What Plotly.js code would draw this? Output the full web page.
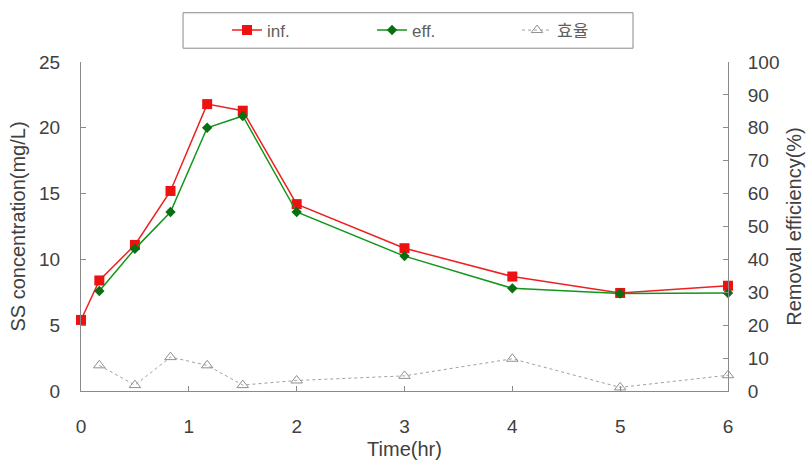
<!DOCTYPE html>
<html>
<head>
<meta charset="utf-8">
<script src="https://cdn.plot.ly/plotly-3.0.1.min.js"></script>
<style>
  html, body { margin: 0; padding: 0; background: #fff; }
  #chart { width: 808px; height: 464px; }
</style>
</head>
<body>
<div id="chart"></div>
<script>
// Sampling times (hr)
const timeHr = [0, 0.17, 0.5, 0.83, 1.17, 1.5, 2, 3, 4, 5, 6];
// SS concentration (mg/L), influent and effluent
const ssInf = [5.4, 8.4, 11.1, 15.2, 21.8, 21.3, 14.2, 10.85, 8.7, 7.45, 8.0];
const ssEff = [null, 7.6, 10.8, 13.6, 20.0, 20.9, 13.6, 10.25, 7.8, 7.4, 7.45];
// Removal efficiency (%)
const effTime = [0.17, 0.5, 0.83, 1.17, 1.5, 2, 3, 4, 5, 6];
const removal = [7.8, 1.8, 10.3, 7.8, 1.8, 3.2, 4.6, 9.8, 1.1, 4.8];

const seriesNames = ['inf.', 'eff.', '효율'];
const xTicks = [0, 1, 2, 3, 4, 5, 6];

const font = 'Liberation Sans, Arial, sans-serif';
const axisGray = '#8a8a8a';
const labelColor = '#404040';

const traces = [
  {
    x: timeHr, y: ssInf, name: seriesNames[0], type: 'scatter', mode: 'lines+markers',
    line: { color: '#ee2020', width: 1.5 },
    marker: { symbol: 'square', size: 10, color: '#ee1111' },
    cliponaxis: false
  },
  {
    x: timeHr, y: ssEff, name: seriesNames[1], type: 'scatter', mode: 'lines+markers',
    line: { color: '#12961a', width: 1.5 },
    marker: { symbol: 'diamond', size: 8, color: '#0a6e12' },
    cliponaxis: false
  },
  {
    x: effTime, y: removal, name: seriesNames[2], type: 'scatter', mode: 'lines+markers',
    yaxis: 'y2',
    line: { color: '#a0a0a0', width: 1, dash: 'dot' },
    marker: { symbol: 'triangle-up-open', size: 10, color: '#909090', line: { width: 1 } },
    cliponaxis: false
  }
];

const layout = {
  width: 808, height: 464,
  margin: { l: 81, r: 80, t: 57, b: 73 },
  paper_bgcolor: '#fff', plot_bgcolor: '#fff',
  font: { family: font, size: 20, color: labelColor },
  showlegend: true,
  legend: {
    orientation: 'h',
    x: 0.2257, xanchor: 'left',
    y: 1.0958, yanchor: 'middle',
    entrywidth: 100, entrywidthmode: 'pixels',
    font: { family: 'Liberation Sans, Noto Sans CJK KR, sans-serif', size: 17, color: '#606060' },
    bgcolor: 'rgba(0,0,0,0)', borderwidth: 0
  },
  shapes: [{
    type: 'rect', xref: 'paper', yref: 'paper',
    x0: 0.1577, x1: 0.8532, y0: 1.0419, y1: 1.1497,
    line: { color: '#8a8a8a', width: 1 }, fillcolor: 'rgba(0,0,0,0)'
  }],
  xaxis: {
    range: [0, 6], tickvals: xTicks, ticktext: xTicks.map(String),
    showgrid: false, zeroline: false,
    showline: true, linecolor: axisGray, linewidth: 1,
    ticks: 'inside', ticklen: 5, tickcolor: axisGray,
    ticklabelstandoff: 18,
    tickfont: { family: font, size: 19, color: labelColor },
    title: { text: 'Time(hr)', standoff: 6, font: { family: font, size: 20, color: labelColor } },
    automargin: false
  },
  yaxis: {
    range: [0, 25], dtick: 5, tick0: 0,
    showgrid: false, zeroline: false,
    showline: true, linecolor: axisGray, linewidth: 1,
    ticks: 'inside', ticklen: 5, tickcolor: axisGray,
    ticklabelstandoff: 16,
    tickfont: { family: font, size: 19, color: labelColor },
    title: { text: 'SS concentration(mg/L)', standoff: 8, font: { family: font, size: 20, color: labelColor } },
    automargin: false
  },
  yaxis2: {
    range: [0, 100], dtick: 10, tick0: 0,
    overlaying: 'y', side: 'right',
    showgrid: false, zeroline: false,
    showline: true, linecolor: axisGray, linewidth: 1,
    ticks: 'inside', ticklen: 5, tickcolor: axisGray,
    ticklabelstandoff: 15,
    tickfont: { family: font, size: 19, color: labelColor },
    title: { text: 'Removal efficiency(%)', standoff: 8, font: { family: font, size: 20, color: labelColor } },
    automargin: false
  }
};

Plotly.newPlot('chart', traces, layout, { staticPlot: true, displayModeBar: false });
</script>
</body>
</html>
